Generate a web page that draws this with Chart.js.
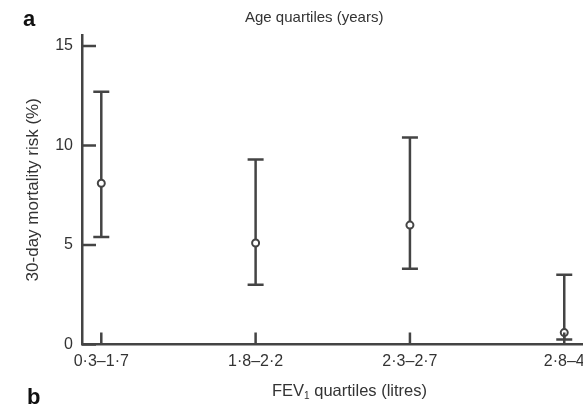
<!DOCTYPE html>
<html>
<head>
<meta charset="utf-8">
<script src="https://cdn.jsdelivr.net/npm/chart.js@4.4.0/dist/chart.umd.min.js"></script>
<style>
  body { margin: 0; background: #fff; }
  .wrap { position: relative; width: 583px; height: 407px; overflow: hidden; }
  .panel { position: absolute; font: bold 22px "Liberation Sans", Arial, sans-serif; color: #111; }
  .label { position: absolute; font: 15px "Liberation Sans", Arial, sans-serif; color: #333; white-space: nowrap; }
  .label sub { font-size: 10px; vertical-align: -3px; line-height: 0; }
</style>
</head>
<body>
<div class="wrap">
  <canvas id="chart" width="583" height="407"></canvas>
  <div class="panel" style="left:23px; top:6px;">a</div>
  <div class="panel" style="left:27px; top:384px;">b</div>
  <div class="label" style="left:245px; top:8px;">Age quartiles (years)</div>
  <div class="label" style="left:272px; top:381px; font-size:16.5px;">FEV<sub>1</sub> quartiles (litres)</div>
</div>
<script>
//DATA
const categories = ["0·3–1·7", "1·8–2·2", "2·3–2·7", "2·8–4"];
const mortality = [8.1, 5.1, 6.0, 0.6];
const lowerCI = [5.4, 3.0, 3.8, 0.25];
const upperCI = [12.7, 9.3, 10.4, 3.5];
const yTicks = [0, 5, 10, 15];

const ink = "#444";
const tickFont = { family: "'Liberation Sans', Arial, sans-serif", size: 16 };
const titleFont = { family: "'Liberation Sans', Arial, sans-serif", size: 17 };

//inward tick marks on both axes
const innerTicks = {
  id: "innerTicks",
  afterDraw(chart) {
    const { ctx, chartArea, scales } = chart;
    ctx.save();
    ctx.strokeStyle = ink;
    ctx.lineWidth = 2.5;
    ctx.beginPath();
    yTicks.forEach((v) => {
      const y = scales.y.getPixelForValue(v);
      ctx.moveTo(chartArea.left, y);
      ctx.lineTo(chartArea.left + 14, y);
    });
    categories.forEach((c, i) => {
      const x = scales.x.getPixelForValue(i);
      ctx.moveTo(x, chartArea.bottom);
      ctx.lineTo(x, chartArea.bottom - 12);
    });
    ctx.stroke();
    ctx.restore();
  },
};

// whisker lines, one dataset per category
const whiskers = categories.map((c, i) => ({
  type: "line",
  data: [
    { x: i, y: lowerCI[i] },
    { x: i, y: upperCI[i] },
  ],
  borderColor: ink,
  borderWidth: 2.5,
  pointRadius: 0,
}));

const chart = new Chart(document.getElementById("chart"), {
  type: "scatter",
  data: {
    datasets: [
      {
        data: mortality.map((v, i) => ({ x: i, y: v })),
        pointStyle: "circle",
        pointRadius: 3.5,
        pointBackgroundColor: "#fff",
        pointBorderColor: ink,
        pointBorderWidth: 2,
      },
      {
        data: lowerCI
          .map((v, i) => ({ x: i, y: v }))
          .concat(upperCI.map((v, i) => ({ x: i, y: v }))),
        pointStyle: "line",
        pointRadius: 8,
        pointBorderColor: ink,
        pointBorderWidth: 2.5,
      },
      ...whiskers,
    ],
  },
  options: {
    responsive: false,
    animation: false,
    layout: { autoPadding: false, padding: { top: 35, right: 1, left: 0, bottom: 0 } },
    plugins: {
      legend: { display: false },
      tooltip: { enabled: false },
    },
    scales: {
      x: {
        type: "linear",
        min: -0.125,
        max: 3.115,
        // let the axis run to the right edge, last label may overhang
        afterFit: (s) => {
          s.height = 62.5;
          s.paddingLeft = 0;
          s.paddingRight = 0;
          if (s._margins) {
            s._margins.left = 0;
            s._margins.right = 0;
          }
        },
        grid: { display: false, drawTicks: false },
        border: { display: true, color: ink, width: 2.5 },
        ticks: {
          stepSize: 1,
          includeBounds: false,
          padding: 7,
          color: "#333",
          font: tickFont,
          callback: (v) => categories[v] || "",
        },
      },
      y: {
        min: 0,
        max: 15.55,
        afterFit: (s) => { s.width = 82; },
        grid: { display: false, drawTicks: false },
        border: { display: true, color: ink, width: 2.5 },
        ticks: {
          stepSize: 5,
          includeBounds: false,
          padding: 9,
          color: "#333",
          font: tickFont,
          callback: (v) => (yTicks.includes(v) ? v : ""),
        },
        title: {
          display: true,
          text: "30-day mortality risk (%)",
          color: "#333",
          font: titleFont,
          padding: { top: 23, bottom: 0 },
        },
      },
    },
  },
  plugins: [innerTicks],
});
</script>
</body>
</html>
